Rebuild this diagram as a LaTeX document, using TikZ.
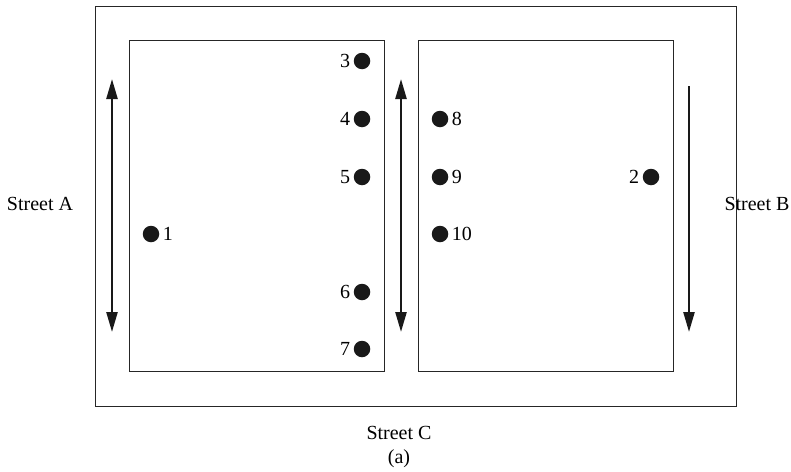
\documentclass[tikz,border=0pt]{standalone}
\usepackage{fontspec}
\setmainfont{Liberation Serif}
\usetikzlibrary{arrows.meta, positioning}

\begin{document}
\begin{tikzpicture}[
        x=1pt, y=-1pt,
        block/.style={rectangle, draw=black!85, line width=1pt, inner sep=0pt},
        lot/.style={circle, fill=black!90, minimum size=16.5pt, inner sep=0pt, label distance=4pt},
        street/.style={font=\fontsize{20}{22}\selectfont},
        flow/.style={line width=2.4pt, draw=black!90},
        roadtip/.tip={Triangle[length=20pt, width=11pt]}
    ]
        \useasboundingbox (0,0) rectangle (791,471);
        \tikzset{every label/.style={font=\fontsize{20}{22}\selectfont}}

        % blocks and the road round them
        \node[block, minimum width=641pt, minimum height=400pt] (road) at (415.5,206) {};
        \node[block, minimum width=255pt, minimum height=331pt] (westblock) at (256.5,205.5) {};
        \node[block, minimum width=255pt, minimum height=331pt] (eastblock) at (545.5,205.5) {};

        % lots
        \foreach \n/\x/\y/\side in {3/362/61/left, 4/362/119/left, 5/362/177/left,
                6/362/292/left, 7/362/349/left, 1/151/234/right,
                8/440/119/right, 9/440/177/right, 10/440/234/right, 2/651/177/left}
            \node[lot, label={\side:\n}] (lot\n) at (\x,\y) {};

        % traffic directions
        \coordinate (westtop) at (112,79);
        \coordinate (westbot) at (112,332);
        \coordinate (midtop) at (401,79);
        \coordinate (midbot) at (401,332);
        \coordinate (easttop) at (689,86);
        \coordinate (eastbot) at (689,332);
        \draw[flow, roadtip-roadtip] (westbot) -- (westtop);
        \draw[flow, roadtip-roadtip] (midbot) -- (midtop);
        \draw[flow, -roadtip] (easttop) -- (eastbot);

        % street names
        \node[street] (streetA) at (40,204) {Street A};
        \node[street] (streetB) at (757,204) {Street B};
        \node[street] (streetC) at (399,433) {Street C};
        \node[street] (caption) at (399,459) {(a)};
    \end{tikzpicture}
\end{document}
